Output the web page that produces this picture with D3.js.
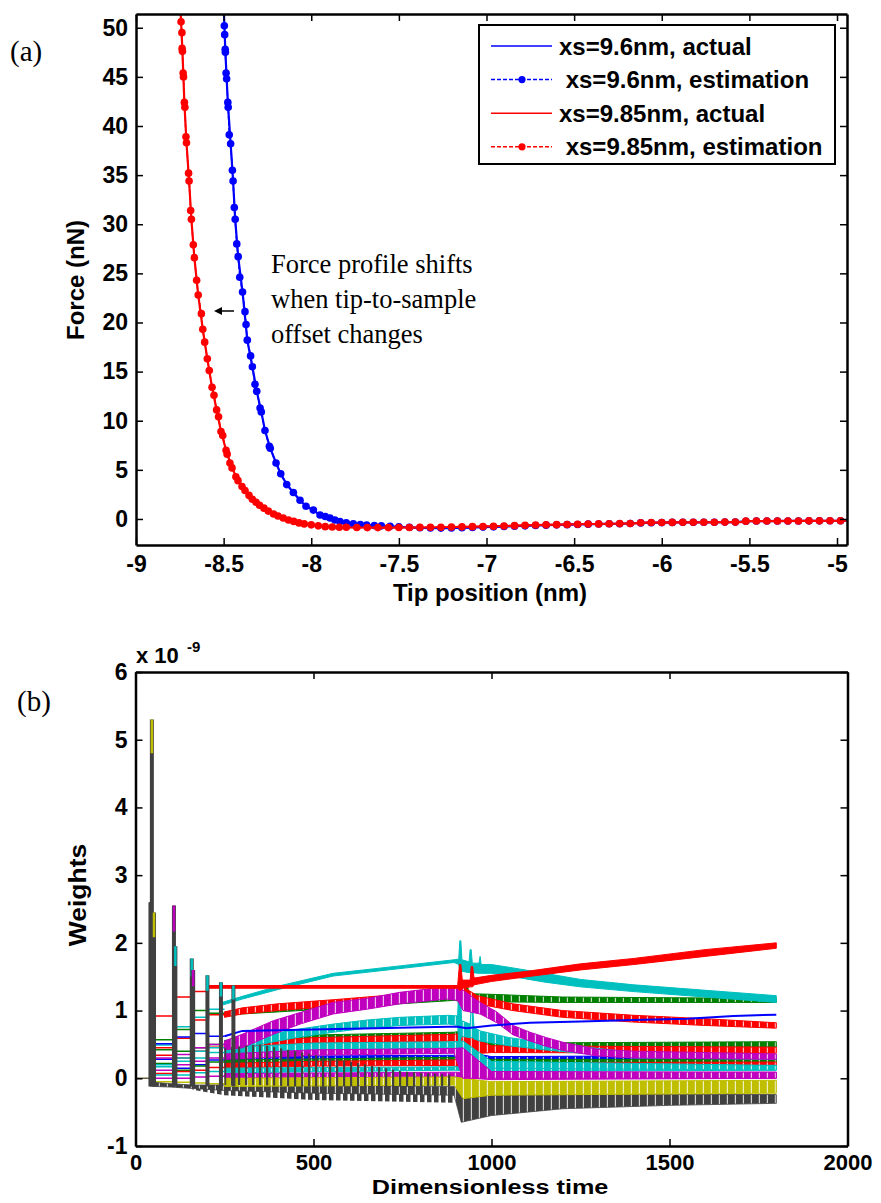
<!DOCTYPE html>
<html>
<head>
<meta charset="utf-8">
<script src="https://cdn.jsdelivr.net/npm/d3@7"></script>
<style>
  body { margin: 0; background: #fff; }
  svg text { font-family: "Liberation Sans", Arial, sans-serif; font-weight: bold; }
  .serif { font-family: "Liberation Serif", "Times New Roman", serif !important; font-weight: normal !important; }
</style>
</head>
<body>
<svg id="chart" width="881" height="1203"></svg>
<script>
// ---------------- panel (a) data ----------------
const ticksAx = [-9, -8.5, -8, -7.5, -7, -6.5, -6, -5.5, -5];
const ticksAy = [0, 5, 10, 15, 20, 25, 30, 35, 40, 45, 50];
const legendA = ["xs=9.6nm, actual", " xs=9.6nm, estimation", "xs=9.85nm, actual", " xs=9.85nm, estimation"];

const blueActual = [[-8.498,51.4],[-8.490,47.5],[-8.476,42.4],[-8.460,38.2],[-8.446,34.4],[-8.434,30.5],[-8.417,26.7],[-8.392,23.1],[-8.365,18.2],[-8.336,15.5],[-8.311,13.0],[-8.285,10.9],[-8.264,9.0],[-8.234,7.2],[-8.201,5.7],[-8.174,4.6],[-8.140,3.5],[-8.102,2.7],[-8.064,1.9],[-8.030,1.3],[-7.988,0.9],[-7.950,0.4],[-7.893,0.1],[-7.836,-0.27],[-7.760,-0.5],[-7.684,-0.61],[-7.600,-0.7],[-7.500,-0.8],[-7.380,-0.9],[-7.260,-0.93],[-7.140,-0.9],[-7.020,-0.83],[-6.840,-0.73],[-6.660,-0.63],[-6.480,-0.56],[-6.300,-0.49],[-6.180,-0.46],[-6.120,-0.4],[-5.880,-0.34],[-5.580,-0.32],[-5.520,-0.23],[-5.220,-0.2],[-4.943,-0.18]];
const blueEst = [[-8.496,50.2],[-8.494,49.3],[-8.491,47.8],[-8.490,47.5],[-8.486,45.4],[-8.483,44.8],[-8.476,42.4],[-8.474,41.9],[-8.468,39.1],[-8.460,38.2],[-8.450,35.5],[-8.446,34.4],[-8.439,31.7],[-8.434,30.5],[-8.425,28.0],[-8.417,26.7],[-8.408,24.6],[-8.392,23.1],[-8.378,21.1],[-8.372,19.8],[-8.365,18.2],[-8.346,16.6],[-8.336,15.5],[-8.321,13.7],[-8.311,13.0],[-8.292,11.3],[-8.285,10.9],[-8.264,9.0],[-8.239,7.4],[-8.234,7.2],[-8.201,5.7],[-8.174,4.6],[-8.140,3.5],[-8.102,2.7],[-8.064,1.9],[-8.030,1.3],[-7.988,0.9],[-7.950,0.4],[-7.920,0.25],[-7.893,0.1],[-7.865,-0.1],[-7.836,-0.27],[-7.800,-0.4],[-7.760,-0.5],[-7.720,-0.56],[-7.684,-0.61],[-7.640,-0.66],[-7.600,-0.7],[-7.550,-0.75],[-7.500,-0.8],[-7.440,-0.85],[-7.380,-0.9],[-7.320,-0.92],[-7.260,-0.93],[-7.200,-0.92],[-7.140,-0.9],[-7.080,-0.87],[-7.020,-0.83],[-6.960,-0.8],[-6.900,-0.77],[-6.840,-0.73],[-6.780,-0.7],[-6.720,-0.66],[-6.660,-0.63],[-6.600,-0.6],[-6.540,-0.58],[-6.480,-0.56],[-6.420,-0.53],[-6.360,-0.51],[-6.300,-0.49],[-6.240,-0.48],[-6.180,-0.46],[-6.120,-0.4],[-6.060,-0.38],[-6.000,-0.37],[-5.940,-0.35],[-5.880,-0.34],[-5.820,-0.34],[-5.760,-0.33],[-5.700,-0.33],[-5.640,-0.32],[-5.580,-0.32],[-5.520,-0.23],[-5.460,-0.21],[-5.400,-0.21],[-5.340,-0.2],[-5.280,-0.2],[-5.220,-0.2],[-5.160,-0.19],[-5.100,-0.19],[-5.040,-0.18],[-4.980,-0.18]];

const redActual = [[-8.745,51.4],[-8.735,47.6],[-8.724,42.4],[-8.712,38.3],[-8.697,34.4],[-8.684,30.5],[-8.667,26.6],[-8.645,22.8],[-8.619,19.3],[-8.593,16.3],[-8.566,13.4],[-8.540,11.1],[-8.515,8.9],[-8.486,7.0],[-8.452,5.2],[-8.418,3.9],[-8.378,2.9],[-8.336,2.0],[-8.295,1.4],[-8.245,0.8],[-8.190,0.3],[-8.130,-0.1],[-8.070,-0.4],[-8.000,-0.6],[-7.920,-0.78],[-7.800,-0.85],[-7.600,-0.88],[-7.400,-0.87],[-7.200,-0.82],[-7.000,-0.75],[-6.800,-0.66],[-6.600,-0.58],[-6.400,-0.51],[-6.150,-0.45],[-6.120,-0.38],[-5.800,-0.34],[-5.550,-0.32],[-5.520,-0.22],[-5.200,-0.2],[-4.943,-0.18]];
const redEst = [[-8.743,50.6],[-8.738,49.5],[-8.737,47.9],[-8.735,47.6],[-8.731,45.4],[-8.729,45.0],[-8.724,42.4],[-8.721,41.9],[-8.715,38.9],[-8.712,38.3],[-8.700,35.2],[-8.697,34.4],[-8.688,31.4],[-8.684,30.5],[-8.673,27.9],[-8.667,26.6],[-8.654,24.3],[-8.645,22.8],[-8.627,20.9],[-8.619,19.3],[-8.608,18.0],[-8.593,16.3],[-8.582,15.1],[-8.566,13.4],[-8.555,12.6],[-8.540,11.1],[-8.529,10.4],[-8.515,8.9],[-8.505,8.5],[-8.486,7.0],[-8.480,6.6],[-8.464,5.7],[-8.452,5.2],[-8.430,4.3],[-8.418,3.9],[-8.395,3.3],[-8.378,2.9],[-8.355,2.4],[-8.336,2.0],[-8.315,1.7],[-8.295,1.4],[-8.270,1.1],[-8.245,0.8],[-8.215,0.5],[-8.190,0.3],[-8.160,0.1],[-8.130,-0.1],[-8.100,-0.25],[-8.070,-0.4],[-8.040,-0.5],[-8.000,-0.6],[-7.960,-0.7],[-7.920,-0.78],[-7.880,-0.82],[-7.840,-0.85],[-7.800,-0.85],[-7.740,-0.87],[-7.680,-0.88],[-7.620,-0.88],[-7.560,-0.88],[-7.500,-0.87],[-7.440,-0.87],[-7.380,-0.86],[-7.320,-0.85],[-7.260,-0.84],[-7.200,-0.82],[-7.140,-0.8],[-7.080,-0.78],[-7.020,-0.76],[-6.960,-0.74],[-6.900,-0.72],[-6.840,-0.68],[-6.780,-0.65],[-6.720,-0.62],[-6.660,-0.6],[-6.600,-0.58],[-6.540,-0.56],[-6.480,-0.54],[-6.420,-0.52],[-6.360,-0.5],[-6.300,-0.48],[-6.240,-0.47],[-6.180,-0.46],[-6.120,-0.38],[-6.060,-0.36],[-6.000,-0.36],[-5.940,-0.35],[-5.880,-0.34],[-5.820,-0.34],[-5.760,-0.33],[-5.700,-0.33],[-5.640,-0.32],[-5.580,-0.32],[-5.520,-0.22],[-5.460,-0.21],[-5.400,-0.21],[-5.340,-0.2],[-5.280,-0.2],[-5.220,-0.2],[-5.160,-0.19],[-5.100,-0.19],[-5.040,-0.18],[-4.980,-0.18]];

// ---------------- panel (b) data ----------------
const ticksBx = [0, 500, 1000, 1500, 2000];
const ticksBy = [-1, 0, 1, 2, 3, 4, 5, 6];
const stepT = [48, 108, 158, 205, 250];   // times where the early step levels change

// spikes at the start of the run
const spikeT   = [42, 46, 52, 108, 112, 158, 162, 202, 240, 275];
const spikeTop = [2.6, 5.3, 2.45, 2.55, 1.95, 1.77, 1.6, 1.52, 1.42, 1.37];
const spikeTip = ["#404040", "#bfbf00", "#bfbf00", "#bf00bf", "#00bfbf", "#00bfbf", "#bf00bf", "#00bfbf", "#00bfbf", "#00bfbf"];

const zeroStart = [[0, 0], [38, 0], [44, -0.05]];

// early step levels (one value per interval of stepT) and later bands [t, low, high]
const cyanTopSteps = [0.49, 0.76, 0.9, 1.02];
const cyanTop = [[237,1.07,1.11],[300,1.17,1.21],[400,1.31,1.36],[555,1.51,1.55],[743,1.62,1.66],[895,1.71,1.75],[908,1.68,1.76],[911,1.6,2.03],[914,1.6,2.03],[917,1.58,1.75],[937,1.56,1.72],[940,1.56,1.9],[943,1.56,1.9],[946,1.56,1.7],[965,1.55,1.7],[968,1.55,1.8],[971,1.55,1.68],[1000,1.55,1.68],[1060,1.5,1.63],[1150,1.42,1.55],[1250,1.35,1.46],[1400,1.28,1.38],[1600,1.2,1.3],[1800,1.12,1.22]];
const redRiseSteps = [0.92, 1.2, 1.28, 1.35];
const redRise = [[205,1.33,1.37],[905,1.33,1.37],[910,1.3,1.68],[914,1.3,1.68],[918,1.33,1.45],[940,1.35,1.45],[943,1.35,1.65],[947,1.35,1.65],[951,1.38,1.48],[1000,1.43,1.52],[1100,1.5,1.58],[1250,1.6,1.69],[1400,1.68,1.77],[1600,1.8,1.9],[1800,1.92,2.0]];
const redFallSteps = [0.45, 0.59, 0.86, 0.94];
const redFall = [[250,0.9,0.98],[300,0.95,1.04],[400,1.0,1.1],[555,1.06,1.16],[743,1.14,1.24],[895,1.2,1.3],[920,1.05,1.35],[960,1.1,1.22],[1060,1.0,1.1],[1200,0.9,1.0],[1400,0.83,0.93],[1600,0.78,0.88],[1800,0.74,0.82]];
const greenTopSteps = [0.57, 0.72, 1.0, 0.96];
const greenTop = [[250,0.93,0.98],[300,0.95,1.0],[400,0.98,1.05],[555,1.03,1.1],[743,1.1,1.18],[895,1.15,1.23],[925,1.13,1.23],[928,1.13,1.42],[932,1.13,1.42],[936,1.13,1.25],[1000,1.13,1.24],[1200,1.12,1.2],[1500,1.12,1.19],[1800,1.12,1.18]];
const magentaTopSteps = [0.3, 0.35, 0.45, 0.5];
const magentaTop = [[250,0.42,0.55],[300,0.45,0.65],[387,0.65,0.85],[462,0.8,0.97],[555,0.95,1.12],[650,1.02,1.18],[743,1.1,1.27],[874,1.17,1.35],[905,1.15,1.33],[920,1.0,1.3],[968,0.95,1.12],[1015,0.82,0.98],[1061,0.64,0.78],[1108,0.55,0.68],[1155,0.47,0.6],[1202,0.41,0.53],[1249,0.37,0.48],[1296,0.33,0.43],[1400,0.3,0.4],[1800,0.28,0.36]];
const cyanMidSteps = [0.2, 0.3, 0.4, 0.45];
const cyanMid = [[250,0.42,0.5],[350,0.5,0.62],[450,0.6,0.72],[555,0.68,0.8],[650,0.74,0.86],[743,0.78,0.9],[880,0.8,0.93],[905,0.78,0.92],[908,0.55,1.4],[912,0.55,1.4],[916,0.62,0.85],[940,0.6,0.8],[943,0.6,1.05],[947,0.6,1.05],[951,0.58,0.75],[968,0.55,0.7],[1050,0.48,0.6],[1150,0.42,0.53],[1250,0.37,0.47],[1400,0.3,0.38],[1800,0.28,0.35]];
const blueLineSteps = [0.51, 0.61, 0.66, 0.62];
const blueLine = [[250,0.62],[300,0.7],[500,0.72],[880,0.76],[905,0.76],[930,0.74],[1000,0.78],[1108,0.82],[1250,0.84],[1400,0.86],[1550,0.88],[1680,0.92],[1800,0.94]];

const greenLowSteps = [0.42, 0.4, 0.45, 0.5];
const greenLow = [[250,0.5,0.56],[500,0.56,0.64],[895,0.6,0.68],[920,0.5,0.7],[1000,0.45,0.52],[1800,0.46,0.54]];
const redLowSteps = [0.34, 0.3, 0.4, 0.46];
const redLow = [[250,0.45,0.52],[500,0.52,0.6],[895,0.55,0.65],[920,0.35,0.66],[1000,0.38,0.48],[1800,0.37,0.46]];
const cyanLowSteps = [0.17, 0.25, 0.3, 0.38];
const cyanLow = [[250,0.35,0.45],[500,0.42,0.52],[895,0.45,0.54],[920,0.25,0.55],[1000,0.15,0.25],[1800,0.12,0.19]];
const magentaLowSteps = [0.12, 0.2, 0.25, 0.3];
const magentaLow = [[250,0.28,0.36],[500,0.34,0.42],[895,0.37,0.44],[920,0.0,0.45],[1000,0.0,0.1],[1800,0.0,0.09]];
const blueLowSteps = [0.28, 0.15, 0.2, 0.27];
const blueLow = [[250,0.25,0.3],[500,0.28,0.33],[895,0.3,0.34],[920,0.2,0.4],[1000,0.25,0.32],[1800,0.27,0.34]];
const greenMinSteps = [0.22, 0.12, 0.18, 0.24];
const greenMin = [[250,0.22,0.27],[895,0.27,0.31],[1000,0.22,0.28],[1800,0.23,0.28]];
const redMinSteps = [0.07, 0.1, 0.12, 0.16];
const redMin = [[250,0.15,0.22],[500,0.18,0.25],[895,0.19,0.27],[920,0.1,0.3],[1000,0.15,0.23],[1800,0.17,0.24]];
const cyanMinSteps = [0.05, 0.05, 0.08, 0.1];
const cyanMin = [[250,0.08,0.15],[895,0.12,0.17],[1000,0.1,0.16],[1800,0.12,0.19]];
const magentaMinSteps = [0.0, 0.0, 0.02, 0.03];
const magentaMin = [[250,0.0,0.07],[895,0.02,0.09],[1000,-0.02,0.08],[1800,0.0,0.09]];
const yellowSteps = [-0.05, -0.06, -0.07, -0.08];
const yellowBand = [[250,-0.12,0.0],[895,-0.1,0.02],[920,-0.3,0.0],[1000,-0.25,-0.05],[1800,-0.22,-0.03]];
const grayBand = [[46,-0.05,0.0],[50,-0.12,-0.06],[100,-0.13,-0.08],[160,-0.15,-0.1],[250,-0.18,-0.1],[500,-0.22,-0.1],[895,-0.25,-0.12],[905,-0.45,-0.1],[915,-0.65,-0.25],[1000,-0.55,-0.25],[1200,-0.45,-0.24],[1500,-0.4,-0.24],[1800,-0.37,-0.24]];
const grayTeeth = [[160,-0.17,-0.12],[250,-0.25,-0.15],[500,-0.32,-0.18],[895,-0.36,-0.2]];
const grayComb = [[250,-0.1,0.45],[350,-0.1,0.5],[450,-0.12,0.4],[550,-0.12,0.3],[650,-0.12,0.2],[750,-0.12,0.1],[895,-0.12,0.05]];

const C = {blue: "#0000ff", green: "#008000", red: "#ff0000", cyan: "#00bfbf", magenta: "#bf00bf", yellow: "#bfbf00", gray: "#404040"};

const bands = [
  {c: C.blue,    steps: blueLowSteps,    band: blueLow},
  {c: C.green,   steps: greenMinSteps,   band: greenMin},
  {c: C.red,     steps: redMinSteps,     band: redMin},
  {c: C.cyan,    steps: cyanMinSteps,    band: cyanMin},
  {c: C.magenta, steps: magentaMinSteps, band: magentaMin},
  {c: C.yellow,  steps: yellowSteps,     band: yellowBand},
  {c: C.green,   steps: greenLowSteps,   band: greenLow},
  {c: C.red,     steps: redLowSteps,     band: redLow},
  {c: C.cyan,    steps: cyanLowSteps,    band: cyanLow},
  {c: C.magenta, steps: magentaLowSteps, band: magentaLow},
  {c: C.green,   steps: greenTopSteps,   band: greenTop},
  {c: C.red,     steps: redFallSteps,    band: redFall},
  {c: C.cyan,    steps: cyanMidSteps,    band: cyanMid},
  {c: C.magenta, steps: magentaTopSteps, band: magentaTop},
  {c: C.cyan,    steps: cyanTopSteps,    band: cyanTop},
  {c: C.red,     steps: redRiseSteps,    band: redRise}
];

// ---------------- drawing ----------------
const svg = d3.select("#chart");
const fmt = d => String(d);

function frame(g, x, y, xt, yt, fsx, fsy, padx) {
  const [x0, x1] = x.range(), [y0, y1] = y.range();
  g.append("g").attr("class", "xax").attr("transform", `translate(0,${y0})`)
    .call(d3.axisBottom(x).tickValues(xt).tickSize(-7).tickSizeOuter(0).tickPadding(padx).tickFormat(fmt));
  g.append("g").attr("transform", `translate(0,${y1})`)
    .call(d3.axisTop(x).tickValues(xt).tickSize(-7).tickSizeOuter(0).tickFormat(""));
  g.append("g").attr("class", "yax").attr("transform", `translate(${x0},0)`)
    .call(d3.axisLeft(y).tickValues(yt).tickSize(-7).tickSizeOuter(0).tickPadding(8).tickFormat(fmt));
  g.append("g").attr("transform", `translate(${x1},0)`)
    .call(d3.axisRight(y).tickValues(yt).tickSize(-7).tickSizeOuter(0).tickFormat(""));
  g.selectAll(".domain").attr("stroke", "#000").attr("stroke-width", 2.5);
  g.selectAll(".tick line").attr("stroke", "#000").attr("stroke-width", 1.5);
  g.selectAll(".tick text").attr("fill", "#000");
  g.selectAll(".xax .tick text").style("font-size", fsx + "px");
  g.selectAll(".yax .tick text").style("font-size", fsy + "px");
}

// ===== panel (a) =====
const xa = d3.scaleLinear().domain([-9, -4.943]).range([136, 847]);
const ya = d3.scaleLinear().domain([-2.65, 51.4]).range([545, 14]);
const ga = svg.append("g");
ga.append("clipPath").attr("id", "clipA").append("rect")
  .attr("x", 136).attr("y", 14).attr("width", 711).attr("height", 531);
const pa = ga.append("g").attr("clip-path", "url(#clipA)");
const lineA = d3.line().x(d => xa(d[0])).y(d => ya(d[1]));

[[blueActual, blueEst, C.blue], [redActual, redEst, C.red]].forEach(([act, est, col]) => {
  pa.append("path").attr("d", lineA(act)).attr("fill", "none").attr("stroke", col).attr("stroke-width", 2.2);
  pa.append("path").attr("d", lineA(est)).attr("fill", "none").attr("stroke", col)
    .attr("stroke-width", 1.5).attr("stroke-dasharray", "4,2");
  pa.selectAll(null).data(est).enter().append("circle")
    .attr("cx", d => xa(d[0])).attr("cy", d => ya(d[1])).attr("r", 3.8).attr("fill", col);
});

frame(ga, xa, ya, ticksAx, ticksAy, 23, 23, 11);

ga.append("text").attr("x", 490).attr("y", 601).attr("text-anchor", "middle")
  .style("font-size", "24px").text("Tip position (nm)");
ga.append("text").attr("transform", "translate(84,280) rotate(-90)").attr("text-anchor", "middle")
  .style("font-size", "24px").text("Force (nN)");
ga.append("text").attr("class", "serif").attr("x", 10).attr("y", 61).style("font-size", "29px").text("(a)");

// annotation
const note = ["Force profile shifts", "when tip-to-sample", "offset changes"];
ga.selectAll(null).data(note).enter().append("text").attr("class", "serif")
  .attr("x", 271).attr("y", (d, i) => 273 + i * 35).style("font-size", "26.5px").text(d => d);
ga.append("line").attr("x1", 234).attr("y1", 311).attr("x2", 220).attr("y2", 311)
  .attr("stroke", "#000").attr("stroke-width", 1.5);
ga.append("path").attr("d", "M214,311 L222,307 L222,315 Z").attr("fill", "#000");

// legend
const lg = ga.append("g");
lg.append("rect").attr("x", 479).attr("y", 25).attr("width", 356).attr("height", 139)
  .attr("fill", "#fff").attr("stroke", "#000").attr("stroke-width", 2);
const legCol = [C.blue, C.blue, C.red, C.red];
legendA.forEach((t, i) => {
  const yy = 46 + i * 33.6;
  lg.append("line").attr("x1", 491).attr("x2", 552).attr("y1", yy).attr("y2", yy)
    .attr("stroke", legCol[i]).attr("stroke-width", 1.5).attr("stroke-dasharray", i % 2 ? "4,2" : null);
  if (i % 2) lg.append("circle").attr("cx", 522).attr("cy", yy).attr("r", 3.6).attr("fill", legCol[i]);
  lg.append("text").attr("x", 559).attr("y", yy + 8.5).style("font-size", "24px")
    .attr("xml:space", "preserve").style("white-space", "pre").text(t);
});

// ===== panel (b) =====
const xb = d3.scaleLinear().domain([0, 2000]).range([135.5, 847.5]);
const yb = d3.scaleLinear().domain([-1, 6]).range([1146, 672]);
const gb = svg.append("g");
gb.append("clipPath").attr("id", "clipB").append("rect")
  .attr("x", 135.5).attr("y", 672).attr("width", 712).attr("height", 474);
const defs = svg.append("defs");
Object.entries(C).forEach(([k, col]) => {
  const p = defs.append("pattern").attr("id", "st-" + k).attr("patternUnits", "userSpaceOnUse")
    .attr("width", 8).attr("height", 10);
  p.append("rect").attr("width", 8).attr("height", 10).attr("fill", col);
  p.append("rect").attr("x", 6.8).attr("width", 1.2).attr("height", 10).attr("fill", "#fff").attr("opacity", 0.75);
});
const comb = defs.append("pattern").attr("id", "comb").attr("patternUnits", "userSpaceOnUse")
  .attr("width", 7).attr("height", 10);
comb.append("rect").attr("width", 2.2).attr("height", 10).attr("fill", C.gray);
const teeth = defs.append("pattern").attr("id", "teeth").attr("patternUnits", "userSpaceOnUse")
  .attr("width", 7).attr("height", 10);
teeth.append("rect").attr("width", 4.5).attr("height", 10).attr("fill", C.gray);

const pb = gb.append("g").attr("clip-path", "url(#clipB)");
const lineB = d3.line().x(d => xb(d[0])).y(d => yb(d[1]));
const areaB = d3.area().x(d => xb(d[0])).y0(d => yb(d[1])).y1(d => yb(d[2]));
const patOf = c => "url(#st-" + Object.keys(C).find(k => C[k] === c) + ")";

pb.append("path").attr("d", lineB(zeroStart)).attr("fill", "none").attr("stroke", "#6b6040").attr("stroke-width", 1.5);

// early step lines
bands.forEach(s => {
  const pts = [];
  s.steps.forEach((v, i) => { pts.push([stepT[i], v]); pts.push([stepT[i + 1], v]); });
  pb.append("path").attr("d", lineB(pts)).attr("fill", "none").attr("stroke", s.c).attr("stroke-width", 1.5);
});
{
  const pts = [];
  blueLineSteps.forEach((v, i) => { pts.push([stepT[i], v]); pts.push([stepT[i + 1], v]); });
  pb.append("path").attr("d", lineB(pts)).attr("fill", "none").attr("stroke", C.blue).attr("stroke-width", 1.5);
}

// gray base band and its teeth
pb.append("path").attr("d", areaB(grayTeeth)).attr("fill", "url(#teeth)");
pb.append("path").attr("d", areaB(grayBand)).attr("fill", patOf(C.gray)).attr("stroke", C.gray).attr("stroke-width", 0.8);

// bands
bands.forEach(s => {
  const thin = s.band === cyanTop || s.band === redRise;
  pb.append("path").attr("d", areaB(s.band)).attr("fill", thin ? s.c : patOf(s.c))
    .attr("stroke", s.c).attr("stroke-width", 1);
});
pb.append("path").attr("d", lineB(blueLine)).attr("fill", "none").attr("stroke", C.blue).attr("stroke-width", 2);

// gray comb over the early bands
pb.append("path").attr("d", areaB(grayComb)).attr("fill", "url(#comb)");

// spikes
spikeT.forEach((t, i) => {
  const top = spikeTop[i];
  pb.append("path").attr("d", lineB([[t, -0.12], [t, top]])).attr("stroke", C.gray).attr("stroke-width", 4);
  pb.append("path").attr("d", lineB([[t, top - Math.min(0.5, top * 0.15)], [t, top]]))
    .attr("stroke", spikeTip[i]).attr("stroke-width", 2.5);
});

frame(gb, xb, yb, ticksBx, ticksBy, 22, 23, 8);

gb.append("text").attr("x", 136).attr("y", 663).style("font-size", "22px").text("x 10");
gb.append("text").attr("x", 187).attr("y", 652).style("font-size", "15px").text("-9");
gb.append("text").attr("transform", "translate(490,1194) scale(1.2,1)").attr("text-anchor", "middle")
  .style("font-size", "21px").text("Dimensionless time");
gb.append("text").attr("transform", "translate(86,895) rotate(-90) scale(1.15,1)").attr("text-anchor", "middle")
  .style("font-size", "23px").text("Weights");
gb.append("text").attr("class", "serif").attr("x", 17).attr("y", 711).style("font-size", "29px").text("(b)");
</script>
</body>
</html>
